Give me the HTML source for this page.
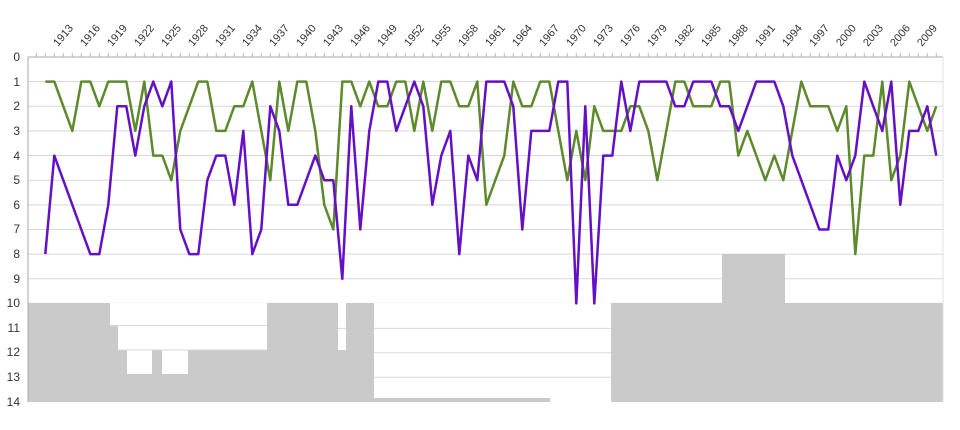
<!DOCTYPE html>
<html><head><meta charset="utf-8"><style>
html,body{margin:0;padding:0;background:#fff;}
svg{display:block;font-family:"Liberation Sans",sans-serif;}
</style></head><body>
<svg id="s" width="960" height="430" viewBox="0 0 960 430" xmlns="http://www.w3.org/2000/svg">
<g id="grid" stroke="#d8d8d8" stroke-width="1"></g>
<g fill="#c9cac9">
<rect x="28" y="303" width="915" height="99"/>
<rect x="722" y="254" width="63" height="49"/>
</g>
<g fill="#fff">
<rect x="110" y="303" width="157" height="22"/>
<rect x="118" y="303" width="149" height="47"/>
<rect x="127" y="350" width="25" height="24"/>
<rect x="162" y="350" width="26" height="24"/>
<rect x="338" y="303" width="8" height="47"/>
<rect x="374" y="303" width="237" height="95"/>
<rect x="550" y="398" width="61" height="4"/>
</g>
<g stroke="#d8d8d8" stroke-width="1">
<line x1="110" y1="325.5" x2="267" y2="325.5"/>
<line x1="118" y1="350" x2="267" y2="350"/>
<line x1="374" y1="328.4" x2="611" y2="328.4"/>
<line x1="374" y1="352.7" x2="611" y2="352.7"/>
<line x1="374" y1="377.3" x2="611" y2="377.3"/>
<line x1="338" y1="328.4" x2="346" y2="328.4"/>
</g>
<line x1="28" y1="57" x2="943" y2="57" stroke="#aaa"/>
<line x1="28" y1="57" x2="28" y2="402" stroke="#aaa"/>
<line x1="943" y1="57" x2="943" y2="402" stroke="#e0e0e0"/>
<g id="ticks" stroke="#bbb"></g>
<g font-size="12" fill="#333" text-anchor="end">
<text x="20" y="61">0</text><text x="20" y="86">1</text><text x="20" y="110">2</text><text x="20" y="135">3</text><text x="20" y="160">4</text><text x="20" y="184">5</text><text x="20" y="209">6</text><text x="20" y="233">7</text><text x="20" y="258">8</text><text x="20" y="283">9</text><text x="20" y="307">10</text><text x="20" y="332">11</text><text x="20" y="356">12</text><text x="20" y="381">13</text><text x="20" y="406">14</text>
</g>
<g id="yl" font-size="11" fill="#333">
<text transform="translate(58,47) rotate(-50)">1913</text>
<text transform="translate(85,47) rotate(-50)">1916</text>
<text transform="translate(112,47) rotate(-50)">1919</text>
<text transform="translate(139,47) rotate(-50)">1922</text>
<text transform="translate(166,47) rotate(-50)">1925</text>
<text transform="translate(193,47) rotate(-50)">1928</text>
<text transform="translate(220,47) rotate(-50)">1931</text>
<text transform="translate(247,47) rotate(-50)">1934</text>
<text transform="translate(274,47) rotate(-50)">1937</text>
<text transform="translate(301,47) rotate(-50)">1940</text>
<text transform="translate(328,47) rotate(-50)">1943</text>
<text transform="translate(355,47) rotate(-50)">1946</text>
<text transform="translate(382,47) rotate(-50)">1949</text>
<text transform="translate(409,47) rotate(-50)">1952</text>
<text transform="translate(436,47) rotate(-50)">1955</text>
<text transform="translate(463,47) rotate(-50)">1958</text>
<text transform="translate(490,47) rotate(-50)">1961</text>
<text transform="translate(517,47) rotate(-50)">1964</text>
<text transform="translate(544,47) rotate(-50)">1967</text>
<text transform="translate(571,47) rotate(-50)">1970</text>
<text transform="translate(598,47) rotate(-50)">1973</text>
<text transform="translate(625,47) rotate(-50)">1976</text>
<text transform="translate(652,47) rotate(-50)">1979</text>
<text transform="translate(679,47) rotate(-50)">1982</text>
<text transform="translate(706,47) rotate(-50)">1985</text>
<text transform="translate(733,47) rotate(-50)">1988</text>
<text transform="translate(760,47) rotate(-50)">1991</text>
<text transform="translate(787,47) rotate(-50)">1994</text>
<text transform="translate(814,47) rotate(-50)">1997</text>
<text transform="translate(841,47) rotate(-50)">2000</text>
<text transform="translate(868,47) rotate(-50)">2003</text>
<text transform="translate(895,47) rotate(-50)">2006</text>
<text transform="translate(922,47) rotate(-50)">2009</text>
</g>
<path id="pg" fill="none" stroke="#5d8a2c" stroke-width="2.5" stroke-linejoin="round"/>
<path id="pp" fill="none" stroke="#6410c4" stroke-width="2.5" stroke-linejoin="round"/>
</svg>
<script>
var NS="http://www.w3.org/2000/svg";
function X(i){return 45.3+i*9.0;}
function Y(v){return 57+v*24.64;}
var g=document.getElementById('grid');
for(var v=1;v<=13;v++){var l=document.createElementNS(NS,'line');l.setAttribute('x1',28);l.setAttribute('x2',943);l.setAttribute('y1',Y(v));l.setAttribute('y2',Y(v));g.appendChild(l);}
var t=document.getElementById('ticks');
for(var i=-1;i<=100;i++){var x=X(i);if(x<29||x>942)continue;var l=document.createElementNS(NS,'line');l.setAttribute('x1',x);l.setAttribute('x2',x);l.setAttribute('y1',53);l.setAttribute('y2',57);t.appendChild(l);}
var P=[8,4,5,6,7,8,8,6,2,2,4,2,1,2,1,7,8,8,5,4,4,6,3,8,7,2,3,6,6,5,4,5,5,9,2,7,3,1,1,3,2,1,2,6,4,3,8,4,5,1,1,1,2,7,3,3,3,1,1,10,2,10,4,4,1,3,1,1,1,1,2,2,1,1,1,2,2,3,2,1,1,1,2,4,5,6,7,7,4,5,4,1,2,3,1,6,3,3,2,4];
var G=[1,1,2,3,1,1,2,1,1,1,3,1,4,4,5,3,2,1,1,3,3,2,2,1,3,5,1,3,1,1,3,6,7,1,1,2,1,2,2,1,1,3,1,3,1,1,2,2,1,6,5,4,1,2,2,1,1,3,5,3,5,2,3,3,3,2,2,3,5,3,1,1,2,2,2,1,1,4,3,4,5,4,5,3,1,2,2,2,3,2,8,4,4,1,5,4,1,2,3,2];
function d(a){return a.map(function(v,i){return (i?'L':'M')+X(i).toFixed(1)+','+Y(v).toFixed(1);}).join('');}
document.getElementById('pp').setAttribute('d',d(P));
document.getElementById('pg').setAttribute('d',d(G));
</script>
</body></html>
